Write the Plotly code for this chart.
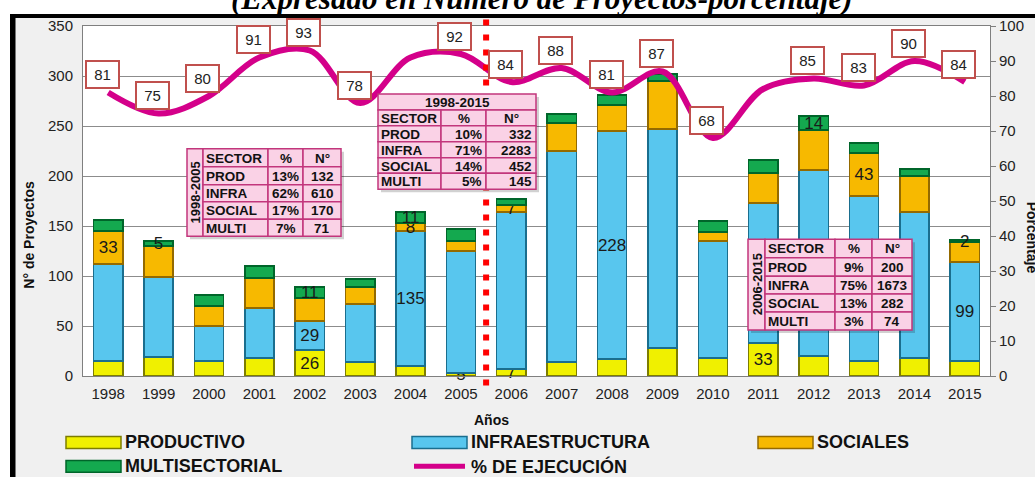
import plotly.graph_objects as go

# ---------------- data ----------------
years = list(range(1998, 2016))
productivo = [15, 19, 15, 18, 26, 14, 10, 3, 7, 14, 17, 28, 18, 33, 20, 15, 18, 15]
infraestructura = [97, 80, 35, 50, 29, 58, 135, 122, 157, 211, 228, 219, 117, 140, 186, 165, 146, 99]
sociales = [33, 31, 20, 30, 23, 17, 8, 10, 7, 28, 26, 48, 9, 30, 40, 43, 36, 20]
multisectorial = [11, 5, 11, 12, 11, 8, 11, 12, 6, 9, 10, 7, 11, 13, 14, 10, 7, 2]
ejecucion = [81, 75, 80, 91, 93, 78, 91, 92, 84, 88, 81, 87, 68, 82, 85, 83, 90, 84]
ejecucion_sin_etiqueta = [2004, 2011]

# value labels shown on bars (label text per year, "" = none)
prod_text = ["", "", "", "", "26", "", "", "5", "7", "", "", "", "", "33", "", "", "", ""]
infra_text = ["", "", "", "", "29", "", "135", "", "", "", "228", "", "", "", "", "", "", "99"]
soc_text = ["33", "", "", "", "", "", "8", "", "7", "", "", "", "", "", "", "43", "", ""]
multi_text = ["", "5", "", "", "11", "", "11", "", "", "", "", "", "", "", "14", "", "", "2"]

sectores = ["PROD", "INFRA", "SOCIAL", "MULTI"]
t1_periodo = "1998-2005"
t1_pct = ["13%", "62%", "17%", "7%"]
t1_num = [132, 610, 170, 71]
t2_periodo = "1998-2015"
t2_pct = ["10%", "71%", "14%", "5%"]
t2_num = [332, 2283, 452, 145]
t3_periodo = "2006-2015"
t3_pct = ["9%", "75%", "13%", "3%"]
t3_num = [200, 1673, 282, 74]

titulo = "(Expresado en Número de Proyectos-porcentaje)"

# ---------------- layout geometry ----------------
W, H = 1035, 477
L, R, T, B = 83, 990, 26, 376.5


def px(x):
    return (x - L) / (R - L)


def py(y):
    return (B - y) / (B - T)


FONT = "Arial, Liberation Sans, sans-serif"

fig = go.Figure()

series = [
    ("PRODUCTIVO", productivo, prod_text, "#f0f000", "#7d7d00"),
    ("INFRAESTRUCTURA", infraestructura, infra_text, "#58c6ee", "#1a6e8e"),
    ("SOCIALES", sociales, soc_text, "#f7b900", "#946a00"),
    ("MULTISECTORIAL", multisectorial, multi_text, "#14a94f", "#00652a"),
]
for name, vals, txt, col, edge in series:
    fig.add_trace(go.Bar(
        x=years, y=vals, name=name, text=txt,
        textposition="inside", insidetextanchor="middle", textangle=0,
        textfont=dict(family=FONT, size=17, color="#1a1a1a"),
        marker=dict(color=col, line=dict(color=edge, width=1.5)),
        width=0.58, showlegend=False, cliponaxis=False,
    ))

fig.add_trace(go.Scatter(
    x=years, y=ejecucion, yaxis="y2", mode="lines", name="% DE EJECUCIÓN",
    line=dict(color="#d4008a", width=6, shape="spline", smoothing=1.0),
    showlegend=False,
))

shapes = []
annotations = []

# background frame
shapes.append(dict(type="rect", xref="paper", yref="paper", x0=px(15), x1=px(W + 5),
                   y0=py(H + 5), y1=py(17), fillcolor="#f0f0f0", line=dict(width=0), layer="below"))
shapes.append(dict(type="rect", xref="paper", yref="paper", x0=px(L), x1=px(R),
                   y0=py(B), y1=py(T), fillcolor="white", line=dict(width=0), layer="below"))
shapes.append(dict(type="rect", xref="paper", yref="paper", x0=px(10), x1=px(W + 5),
                   y0=py(18), y1=py(14), fillcolor="black", line=dict(width=0)))
shapes.append(dict(type="rect", xref="paper", yref="paper", x0=px(10), x1=px(15.5),
                   y0=py(H + 5), y1=py(14), fillcolor="black", line=dict(width=0)))

# red dotted separator
shapes.append(dict(type="line", xref="x", yref="paper", x0=2005.5, x1=2005.5,
                   y0=py(386), y1=py(17),
                   line=dict(color="#ff0000", width=6, dash="6px,9px")))

# ---------------- tables ----------------
PINK = "#fad2e6"
BORD = "#c2367c"


def cell(x0, x1, y0, y1):
    shapes.append(dict(type="rect", xref="paper", yref="paper", x0=px(x0), x1=px(x1),
                       y0=py(y1), y1=py(y0), fillcolor=PINK, line=dict(color=BORD, width=1.5)))


def text(x, y, s, align="center", size=13.5, bold=True, angle=0):
    annotations.append(dict(xref="paper", yref="paper", x=px(x), y=py(y), text=s,
                            showarrow=False, xanchor=align, yanchor="middle",
                            textangle=angle,
                            font=dict(family=FONT, size=size, color="#111111",
                                      weight="bold" if bold else "normal")))


def shadow(x0, x1, y0, y1):
    shapes.append(dict(type="rect", xref="paper", yref="paper", x0=px(x0 + 3), x1=px(x1 + 3),
                       y0=py(y1 + 3), y1=py(y0 + 3), fillcolor="rgba(0,0,0,0.18)",
                       line=dict(width=0)))


def side_table(x_edges, y_edges, periodo, pct, num):
    xa, xb, xc, xd, xe = x_edges
    shadow(xa, xe, y_edges[0], y_edges[-1])
    cell(xa, xb, y_edges[0], y_edges[-1])
    text((xa + xb) / 2 + 1, (y_edges[0] + y_edges[-1]) / 2, periodo, angle=-90, size=13)
    rows = [("SECTOR", "%", "N°")] + [(s, p, str(n)) for s, p, n in zip(sectores, pct, num)]
    for i, (a, b, c) in enumerate(rows):
        y0, y1 = y_edges[i], y_edges[i + 1]
        ym = (y0 + y1) / 2 + 0.5
        cell(xb, xc, y0, y1)
        cell(xc, xd, y0, y1)
        cell(xd, xe, y0, y1)
        text(xb + 1, ym, a, align="left")
        text((xc + xd) / 2, ym, b)
        text((xd + xe) / 2, ym, c)


side_table([187, 203, 268, 303, 341], [149, 167, 185, 202, 219.5, 236.5], t1_periodo, t1_pct, t1_num)
side_table([748, 765, 835, 872, 912], [239.5, 258, 276.5, 294.5, 312.5, 330.5], t3_periodo, t3_pct, t3_num)

# center table with title row
x2 = [378, 441, 486, 536]
y2e = [94, 110, 126, 142, 158, 173.5, 189.5]
shadow(x2[0], x2[-1], y2e[0], y2e[-1])
cell(x2[0], x2[-1], y2e[0], y2e[1])
text((x2[0] + x2[-1]) / 2, (y2e[0] + y2e[1]) / 2 + 0.5, t2_periodo)
rows2 = [("SECTOR", "%", "N°")] + [(s, p, str(n)) for s, p, n in zip(sectores, t2_pct, t2_num)]
for i, (a, b, c) in enumerate(rows2):
    y0, y1 = y2e[i + 1], y2e[i + 2]
    ym = (y0 + y1) / 2 + 0.5
    cell(x2[0], x2[1], y0, y1)
    cell(x2[1], x2[2], y0, y1)
    cell(x2[2], x2[3], y0, y1)
    text(x2[0] + 1, ym, a, align="left")
    if i == 0:
        text((x2[1] + x2[2]) / 2, ym, b)
        text((x2[2] + x2[3]) / 2, ym, c)
    else:
        text(x2[2] - 2, ym, b, align="right")
        text(x2[3] - 2, ym, c, align="right")

# ---------------- line value labels ----------------
for yr, v in zip(years, ejecucion):
    if yr in ejecucion_sin_etiqueta:
        continue
    annotations.append(dict(x=yr, y=v, xref="x", yref="y2", text=str(v), showarrow=False,
                            yshift=18, xshift=-6, bgcolor="white", bordercolor="#c0504d",
                            borderwidth=2, borderpad=3, width=25, height=19,
                            font=dict(family=FONT, size=15, color="#222222")))

# ---------------- titles ----------------
annotations.append(dict(xref="paper", yref="paper", x=px(542), y=py(18), text=titulo,
                        showarrow=False, xanchor="center", yanchor="bottom",
                        font=dict(family="Liberation Serif, Times New Roman, serif", size=31,
                                  color="black", weight="bold", style="italic")))
annotations.append(dict(xref="paper", yref="paper", x=px(29), y=py(235), text="N° de Proyectos",
                        showarrow=False, textangle=-90, xanchor="center", yanchor="middle",
                        font=dict(family=FONT, size=14, color="#111111", weight="bold")))
annotations.append(dict(xref="paper", yref="paper", x=px(491), y=py(421), text="Años",
                        showarrow=False, xanchor="center", yanchor="middle",
                        font=dict(family=FONT, size=14, color="#111111", weight="bold")))
annotations.append(dict(xref="paper", yref="paper", x=px(1032), y=py(238), text="Porcentaje",
                        showarrow=False, textangle=90, xanchor="center", yanchor="middle",
                        font=dict(family=FONT, size=14, color="#111111", weight="bold")))

# ---------------- custom legend ----------------
legend_items = [
    ("PRODUCTIVO", "#f0f000", "#7d7d00", 66, 443, "bar"),
    ("INFRAESTRUCTURA", "#58c6ee", "#1a6e8e", 412, 443, "bar"),
    ("SOCIALES", "#f7b900", "#946a00", 758, 443, "bar"),
    ("MULTISECTORIAL", "#14a94f", "#00652a", 66, 467, "bar"),
    ("% DE EJECUCIÓN", "#d4008a", "#d4008a", 412, 467, "line"),
]
for name, col, edge, lx, ly, kind in legend_items:
    if kind == "bar":
        shapes.append(dict(type="rect", xref="paper", yref="paper", x0=px(lx), x1=px(lx + 55),
                           y0=py(ly + 6), y1=py(ly - 6), fillcolor=col,
                           line=dict(color=edge, width=1.5)))
    else:
        shapes.append(dict(type="line", xref="paper", yref="paper", x0=px(lx + 2), x1=px(lx + 53),
                           y0=py(ly), y1=py(ly), line=dict(color=col, width=5)))
    annotations.append(dict(xref="paper", yref="paper", x=px(lx + 57), y=py(ly), text=name,
                            showarrow=False, xanchor="left", yanchor="middle",
                            font=dict(family=FONT, size=18, color="#111111", weight="bold")))

TICKFONT = dict(family=FONT, size=15, color="#222222")
fig.update_layout(
    width=W, height=H,
    margin=dict(l=L, r=W - R, t=T, b=H - B, pad=0),
    paper_bgcolor="white", plot_bgcolor="rgba(0,0,0,0)",
    barmode="stack", bargap=0.42,
    uniformtext=dict(mode="show", minsize=17),
    showlegend=False,
    shapes=shapes, annotations=annotations,
    xaxis=dict(tickmode="array", tickvals=years, ticktext=[str(y) for y in years],
               range=[1997.5, 2015.5], showgrid=False, showline=True, mirror=True,
               linecolor="#7f7f7f", linewidth=1, ticks="", ticklabelstandoff=4,
               tickfont=TICKFONT),
    yaxis=dict(range=[0, 350], tickvals=[0, 50, 100, 150, 200, 250, 300, 350],
               showgrid=True, gridcolor="#8c8c8c", gridwidth=1, zeroline=False,
               showline=True, linecolor="#7f7f7f", linewidth=1, ticks="",
               ticklabelstandoff=6, tickfont=TICKFONT),
    yaxis2=dict(range=[0, 100], tickvals=list(range(0, 101, 10)), overlaying="y", side="right",
                showgrid=False, zeroline=False, showline=True, linecolor="#7f7f7f", linewidth=1,
                ticks="outside", ticklen=5, tickcolor="#7f7f7f",
                tickfont=TICKFONT),
)

fig.write_html("out.html", config={"displayModeBar": False},
               post_script="document.body.style.margin='0';document.body.style.overflow='hidden';")
